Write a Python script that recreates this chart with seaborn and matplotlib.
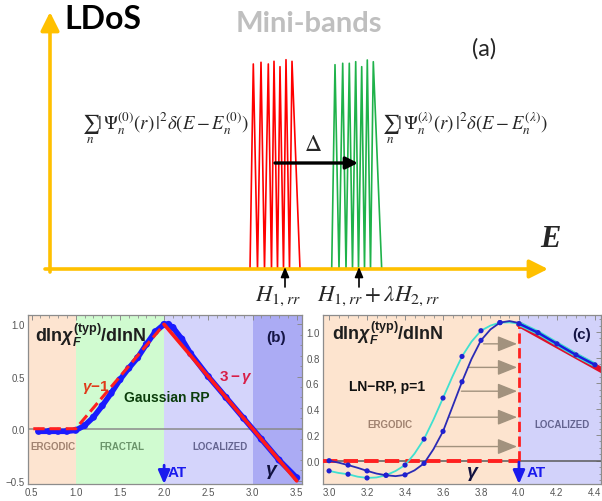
import numpy as np
import pandas as pd
import matplotlib
matplotlib.use("Agg")
import matplotlib.pyplot as plt
import seaborn as sns

# ---------------- data ----------------
# panel (a): schematic mini-bands (energy position, spike height above baseline)
red_peak_E = [253.3, 261, 268.3, 274, 280, 286, 292]
red_peak_h = [205, 206.7, 205, 207.7, 202.3, 209.3, 207.7]
red_base_E = [250, 257.5, 264.5, 271.5, 277.5, 283.5, 289.5, 300]
green_peak_E = [335, 342.7, 349.3, 355.7, 361.7, 367.3, 373.3]
green_peak_h = [204.3, 205.7, 205.7, 207.3, 202.3, 209, 207.3]
green_base_E = [331.7, 339, 346, 352.5, 358.5, 364.5, 370.5, 381.7]
shift_from, shift_to, shift_level = 275, 358, 106
center_marks = [285, 359]

# panel (b): Gaussian RP
gamma_b = [0.58, 0.7, 0.8, 0.9, 1.0, 1.1, 1.2, 1.3, 1.4, 1.5, 1.6, 1.7, 1.8, 1.9,
           2.0, 2.05, 2.1, 2.2, 2.3, 2.5, 2.7, 2.9, 3.1, 3.3, 3.5]
dlnchi_b = [-0.025, -0.025, -0.025, -0.025, -0.015, 0.03, 0.11, 0.22, 0.34, 0.47,
            0.58, 0.68, 0.81, 0.93, 1.0, 1.0, 0.97, 0.86, 0.72, 0.5, 0.3, 0.1,
            -0.1, -0.3, -0.47]
theory_b_rise_x = [0.52, 1.0, 2.0]
theory_b_rise_y = [0.0, 0.0, 1.0]
theory_b_fall_x = [2.0, 3.5]
theory_b_fall_y = [1.0, -0.5]
phase_edges_b = [0.46, 1.0, 2.0, 3.0, 3.56]
phase_colors_b = ["#fde4d0", "#d0fbd0", "#d4d4fb", "#ababf4"]

# panel (c): LN-RP, p=1
gamma_c_pts = [3.0, 3.1, 3.2, 3.3, 3.4, 3.5, 3.6, 3.7, 3.8, 3.9]
cyan_pts = [-0.079, -0.105, -0.134, -0.113, -0.034, 0.168, 0.487, 0.81, 1.01, 1.073]
blue_pts = [0.0, -0.034, -0.079, -0.113, -0.11, -0.021, 0.228, 0.613, 0.935, 1.073]
gamma_c_line = [3.0, 3.05, 3.1, 3.15, 3.2, 3.25, 3.3, 3.35, 3.4, 3.45, 3.5, 3.55, 3.6,
                3.65, 3.7, 3.75, 3.8, 3.85, 3.9, 3.95, 4.0]
cyan_line = [-0.079, -0.095, -0.105, -0.124, -0.134, -0.13, -0.113, -0.08, -0.034, 0.055,
             0.168, 0.32, 0.487, 0.655, 0.81, 0.925, 1.01, 1.05, 1.073, 1.075, 1.065]
blue_line = [0.0, -0.015, -0.034, -0.055, -0.079, -0.1, -0.113, -0.12, -0.11, -0.075,
             -0.021, 0.09, 0.228, 0.42, 0.613, 0.79, 0.935, 1.02, 1.073, 1.085, 1.07]
gamma_loc = [4.0, 4.1, 4.2, 4.3, 4.4]
loc_pts = [1.065, 0.995, 0.908, 0.822, 0.745]
theory_c_loc_x = [4.0, 4.44]
theory_c_loc_y = [1.06, 0.70]
arrow_start_x = [3.565, 3.635, 3.697, 3.737, 3.814]
arrow_level_y = [0.11, 0.338, 0.54, 0.725, 0.908]
gamma_AT = 4.0

# ---------------- style ----------------
sns.set_style("white")
plt.rcParams["font.family"] = ["Liberation Sans", "DejaVu Sans"]
plt.rcParams["mathtext.fontset"] = "custom"
plt.rcParams["mathtext.rm"] = "Liberation Sans:bold"
plt.rcParams["mathtext.bf"] = "Liberation Sans:bold"
plt.rcParams["mathtext.it"] = "Liberation Sans:italic:bold"
plt.rcParams["mathtext.sf"] = "Liberation Sans:bold"

W, H = 602, 502
fig = plt.figure(figsize=(W / 100, H / 100), dpi=100)
fig.patch.set_facecolor("white")

# ================= panel (a) =================
ax_a = fig.add_axes([0, 197 / H, 1, 305 / H])
ax_a.set_xlim(0, 602)
ax_a.set_ylim(-35, 270)
ax_a.axis("off")

def zigzag(bases, peaks, heights):
    xs, ys = [], []
    for i in range(len(peaks)):
        xs += [bases[i], peaks[i]]
        ys += [0, heights[i]]
    xs.append(bases[-1]); ys.append(0)
    return pd.DataFrame({"E": xs, "ldos": ys})

red_df = zigzag(red_base_E, red_peak_E, red_peak_h)
green_df = zigzag(green_base_E, green_peak_E, green_peak_h)
sns.lineplot(data=red_df, x="E", y="ldos", sort=False, estimator=None, color="#ff0000",
             lw=1.2, ax=ax_a)
sns.lineplot(data=green_df, x="E", y="ldos", sort=False, estimator=None, color="#1fb24a",
             lw=1.2, ax=ax_a)

orange = "#ffc000"
ax_a.annotate("", xy=(50, 257), xytext=(50, -3),
              arrowprops=dict(arrowstyle="-|>,head_length=0.7,head_width=0.35",
                              color=orange, lw=2.6, mutation_scale=16, shrinkA=0, shrinkB=0))
ax_a.annotate("", xy=(548, 0), xytext=(45, 0),
              arrowprops=dict(arrowstyle="-|>,head_length=0.7,head_width=0.35",
                              color=orange, lw=2.6, mutation_scale=16, shrinkA=0, shrinkB=0))
ax_a.annotate("", xy=(shift_to, shift_level), xytext=(shift_from, shift_level),
              arrowprops=dict(arrowstyle="-|>,head_length=0.6,head_width=0.3",
                              color="black", lw=2.4, mutation_scale=12, shrinkA=0, shrinkB=0))
for xm in center_marks:
    ax_a.annotate("", xy=(xm, 2), xytext=(xm, -18),
                  arrowprops=dict(arrowstyle="-|>,head_length=0.6,head_width=0.25",
                                  color="black", lw=1.2, mutation_scale=10, shrinkA=0, shrinkB=0))

ax_a.text(103, 250, "LDoS", family="Lato", weight="bold", fontsize=23,
          ha="center", va="center", color="black")
ax_a.text(309, 246, "Mini-bands", family="Lato", weight="bold", fontsize=21,
          ha="center", va="center", color="#bfbfbf")
ax_a.text(484, 221, "(a)", family="Lato", fontsize=17, ha="center", va="center")
ax_a.text(550, 30, "E", family="Liberation Serif", style="italic", weight="bold",
          fontsize=22, ha="center", va="center")
ax_a.text(165, 142, r"$\sum_n|\,\Psi_n^{(0)}(r)\,|^2\delta(E-E_n^{(0)})$", math_fontfamily="stix",
          fontsize=13.5, ha="center", va="center")
ax_a.text(465, 142, r"$\sum_n|\,\Psi_n^{(\lambda)}(r)\,|^2\delta(E-E_n^{(\lambda)})$",
          math_fontfamily="stix", fontsize=13.5, ha="center", va="center")
ax_a.text(313, 125, r"$\Delta$", math_fontfamily="stix", fontsize=17, ha="center", va="center")
ax_a.text(278, -26, r"$H_{1,rr}$", math_fontfamily="stix", fontsize=16.5, ha="center", va="center")
ax_a.text(317, -26, r"$H_{1,rr}+\lambda H_{2,rr}$", math_fontfamily="stix", fontsize=16.5,
          ha="left", va="center")

# ================= helper for Mathematica-like frame =================
def style_frame(ax):
    for s in ax.spines.values():
        s.set_color("#8c8c8c")
        s.set_linewidth(0.9)
    ax.tick_params(which="major", direction="in", length=3.5, width=0.7, color="#8c8c8c",
                   labelsize=7, labelcolor="#555555", top=True, right=True, pad=2.5)
    ax.tick_params(which="minor", direction="in", length=1.8, width=0.6, color="#8c8c8c",
                   top=True, right=True)
    ax.set_xlabel("")
    ax.set_ylabel("")

# ================= panel (b) =================
ax_b = fig.add_axes([28 / W, 17 / H, 274 / W, 169 / H])
ax_b.set_xlim(0.46, 3.56)
ax_b.set_ylim(-0.53, 1.09)
for i in range(len(phase_colors_b)):
    ax_b.axvspan(phase_edges_b[i], phase_edges_b[i + 1], color=phase_colors_b[i], lw=0, zorder=0)
ax_b.axhline(0, color="#8a8a8a", lw=1.1, zorder=1)

df_b = pd.DataFrame({"gamma": gamma_b, "d": dlnchi_b})
sns.lineplot(data=df_b, x="gamma", y="d", color="#1a1aff", lw=4.0, ax=ax_b, zorder=2,
             solid_capstyle="round")
sns.scatterplot(data=df_b, x="gamma", y="d", color="#1a1aff", s=26, edgecolor="none",
                ax=ax_b, zorder=2)
sns.lineplot(x=theory_b_rise_x, y=theory_b_rise_y, color="#ff2020", lw=2.2, ax=ax_b,
             zorder=3, dashes=(2.6, 1.3), linestyle="--")
sns.lineplot(x=theory_b_fall_x, y=theory_b_fall_y, color="#ff1a1a", lw=2.6, ax=ax_b, zorder=3)

ax_b.set_xticks(np.arange(0.5, 3.51, 0.5))
ax_b.set_xticks(np.arange(0.5, 3.56, 0.1), minor=True)
ax_b.set_yticks([-0.5, 0.0, 0.5, 1.0])
ax_b.set_yticks(np.arange(-0.5, 1.06, 0.1), minor=True)
ax_b.xaxis.set_major_formatter(matplotlib.ticker.FormatStrFormatter("%.1f"))
ax_b.yaxis.set_major_formatter(matplotlib.ticker.FuncFormatter(
    lambda v, p: ("\u2212%.1f" % abs(v)) if v < 0 else "%.1f" % v))
style_frame(ax_b)

ax_b.text(0.54, 0.908, r"$\mathrm{dln}\chi_{F}^{\mathrm{(typ)}}\mathrm{/dlnN}$", fontsize=13,
          ha="left", va="center", color="#1e1e1e")
ax_b.text(3.265, 0.879, "(b)", fontsize=11, weight="bold", ha="center", va="center",
          color="#151545")
ax_b.text(1.229, 0.409, r"$\gamma\mathrm{-1}$", fontsize=11, ha="center", va="center",
          color="#e03a1a")
ax_b.text(2.813, 0.496, r"$\mathrm{3-}\gamma$", fontsize=11, ha="center", va="center",
          color="#d81e48")
ax_b.text(2.032, 0.304, "Gaussian RP", fontsize=10, weight="bold", ha="center", va="center",
          color="#0b3d0b")
ax_b.text(0.743, -0.166, "ERGODIC", fontsize=7, weight="bold", ha="center", va="center",
          color="#a08270")
ax_b.text(1.523, -0.166, "FRACTAL", fontsize=7, weight="bold", ha="center", va="center",
          color="#6a946a")
ax_b.text(2.632, -0.166, "LOCALIZED", fontsize=7, weight="bold", ha="center", va="center",
          color="#646490")
ax_b.text(3.22, -0.406, r"$\gamma$", fontsize=14, ha="center", va="center", color="#121240")
ax_b.annotate("", xy=(2.0, -0.53), xytext=(2.0, -0.35),
              arrowprops=dict(arrowstyle="-|>,head_length=0.8,head_width=0.35",
                              color="#1a1aee", lw=2.0, mutation_scale=10, shrinkA=0, shrinkB=0))
ax_b.text(2.044, -0.415, "AT", fontsize=11, weight="bold", ha="left", va="center",
          color="#1a1aee")

# ================= panel (c) =================
ax_c = fig.add_axes([323 / W, 17 / H, 278 / W, 169 / H])
ax_c.set_xlim(2.968, 4.432)
ax_c.set_ylim(-0.181, 1.132)
ax_c.axvspan(2.968, gamma_AT, color="#fde4cf", lw=0, zorder=0)
ax_c.axvspan(gamma_AT, 4.432, color="#d2d2fa", lw=0, zorder=0)
ax_c.axhline(0, color="#5a5a5a", lw=1.1, zorder=1)

sns.lineplot(x=[2.968, gamma_AT], y=[0, 0], color="#ff2020", lw=2.8, ax=ax_c, zorder=3,
             dashes=(2.5, 1.0), linestyle="--")
sns.lineplot(x=[gamma_AT, gamma_AT], y=[0, 1.065], color="#ff2020", lw=2.0, ax=ax_c,
             zorder=3, dashes=(2.5, 1.2), linestyle="--", estimator=None, sort=False)
sns.lineplot(x=theory_c_loc_x, y=theory_c_loc_y, color="#e0102a", lw=4.2, ax=ax_c, zorder=2)

for x0, y0 in zip(arrow_start_x, arrow_level_y):
    ax_c.annotate("", xy=(gamma_AT - 0.01, y0), xytext=(x0, y0),
                  arrowprops=dict(arrowstyle="-|>,head_length=1.0,head_width=0.4",
                                  color="#a2927e", lw=1.0, mutation_scale=12,
                                  shrinkA=0, shrinkB=0), zorder=2)

sns.lineplot(x=gamma_c_line, y=cyan_line, color="#40e0d0", lw=1.3, ax=ax_c, zorder=4)
sns.lineplot(x=gamma_c_line, y=blue_line, color="#2b2bb5", lw=1.3, ax=ax_c, zorder=4)
sns.lineplot(x=gamma_loc, y=loc_pts, color="#40e0d0", lw=3.4, ax=ax_c, zorder=4)
sns.lineplot(x=gamma_loc, y=loc_pts, color="#1a1ae0", lw=1.8, ax=ax_c, zorder=4)
sns.scatterplot(x=gamma_c_pts, y=cyan_pts, color="#2020d0", s=14, edgecolor="none",
                ax=ax_c, zorder=5)
sns.scatterplot(x=gamma_c_pts, y=blue_pts, color="#2020d0", s=14, edgecolor="none",
                ax=ax_c, zorder=5)
sns.scatterplot(x=gamma_loc, y=loc_pts, color="#2020d0", s=14, edgecolor="none",
                ax=ax_c, zorder=5)

ax_c.set_xticks(np.arange(3.0, 4.41, 0.2))
ax_c.set_xticks(np.arange(3.0, 4.43, 0.05), minor=True)
ax_c.set_yticks(np.arange(0.0, 1.01, 0.2))
ax_c.set_yticks(np.arange(-0.15, 1.12, 0.05), minor=True)
ax_c.xaxis.set_major_formatter(matplotlib.ticker.FormatStrFormatter("%.1f"))
ax_c.yaxis.set_major_formatter(matplotlib.ticker.FormatStrFormatter("%.1f"))
style_frame(ax_c)

ax_c.text(3.015, 1.0, r"$\mathrm{dln}\chi_{F}^{\mathrm{(typ)}}\mathrm{/dlnN}$", fontsize=13,
          ha="left", va="center", color="#1e1e1e")
ax_c.text(4.331, 0.984, "(c)", fontsize=11, weight="bold", ha="center", va="center",
          color="#151545")
ax_c.text(3.305, 0.58, "LN\u2212RP, p=1", fontsize=10, weight="bold", ha="center",
          va="center", color="#111111")
ax_c.text(3.321, 0.285, "ERGODIC", fontsize=7, weight="bold", ha="center", va="center",
          color="#a08270")
ax_c.text(4.226, 0.285, "LOCALIZED", fontsize=7, weight="bold", ha="center", va="center",
          color="#646490")
ax_c.text(3.757, -0.096, r"$\gamma$", fontsize=14, ha="center", va="center", color="#121240")
ax_c.annotate("", xy=(gamma_AT, -0.181), xytext=(gamma_AT, -0.01),
              arrowprops=dict(arrowstyle="-|>,head_length=0.8,head_width=0.35",
                              color="#1a1aee", lw=2.0, mutation_scale=10, shrinkA=0, shrinkB=0))
ax_c.text(4.042, -0.088, "AT", fontsize=11, weight="bold", ha="left", va="center",
          color="#1a1aee")

fig.savefig("out.png", dpi=100)
